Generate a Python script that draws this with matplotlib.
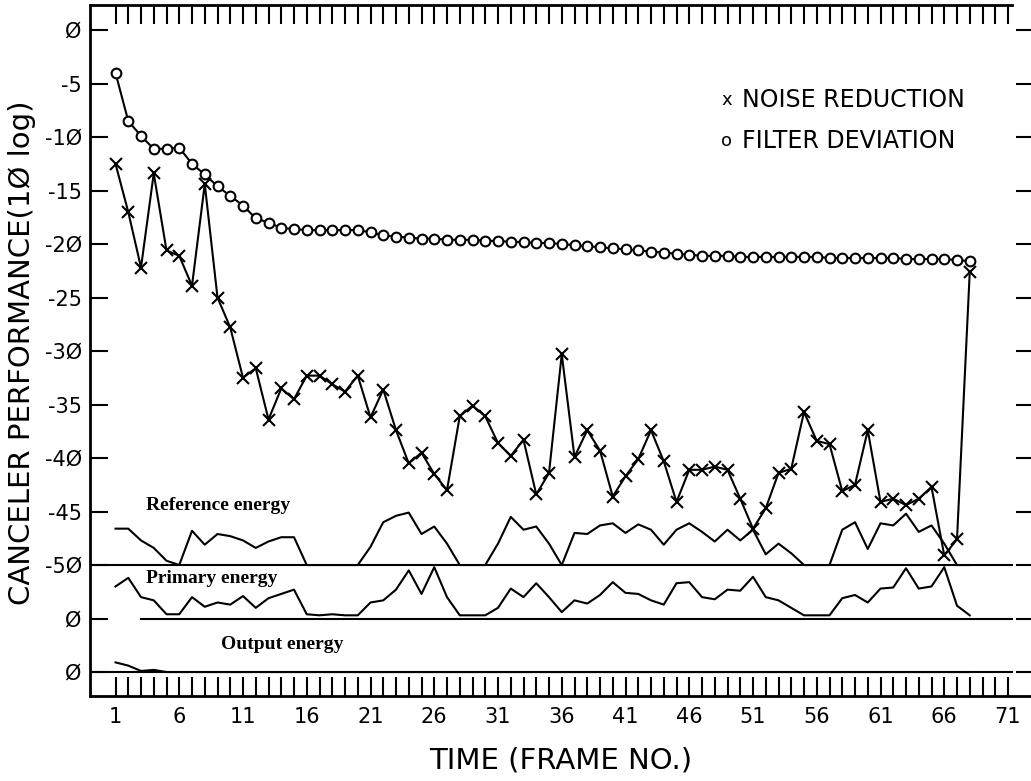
import numpy as np
import matplotlib
matplotlib.use("Agg")
import matplotlib.pyplot as plt

# frame numbers and canceler performance curves (dB)
frames = np.arange(1, 69)

noise_reduction = [
    -12.5, -17.0, -22.2, -13.4, -20.6, -21.1, -23.9, -14.4, -25.0, -27.8,
    -32.5, -31.6, -36.4, -33.5, -34.5, -32.3, -32.3, -33.1, -33.8, -32.3,
    -36.2, -33.6, -37.4, -40.5, -39.5, -41.5, -43.0, -36.1, -35.1, -36.1,
    -38.6, -39.8, -38.3, -43.4, -41.4, -30.3, -39.9, -37.4, -39.3, -43.6,
    -41.7, -40.1, -37.4, -40.3, -44.1, -41.1, -41.1, -40.8, -41.1, -43.8,
    -46.6, -44.7, -41.4, -41.0, -35.7, -38.4, -38.7, -43.1, -42.5, -37.4,
    -44.1, -43.8, -44.4, -43.8, -42.7, -49.1, -47.6, -22.6,
]

filter_deviation = [
    -4.0, -8.5, -9.9, -11.1, -11.1, -11.0, -12.5, -13.5, -14.6, -15.5,
    -16.4, -17.6, -18.0, -18.5, -18.6, -18.7, -18.7, -18.7, -18.7, -18.7,
    -18.9, -19.2, -19.3, -19.4, -19.5, -19.5, -19.6, -19.6, -19.6, -19.7,
    -19.7, -19.8, -19.8, -19.9, -19.9, -20.0, -20.1, -20.2, -20.3, -20.4,
    -20.5, -20.6, -20.7, -20.8, -20.9, -21.0, -21.1, -21.1, -21.1, -21.2,
    -21.2, -21.2, -21.2, -21.2, -21.2, -21.2, -21.3, -21.3, -21.3, -21.3,
    -21.3, -21.3, -21.4, -21.4, -21.4, -21.4, -21.5, -21.6,
]

# energy traces, each drawn on its own baseline
reference_energy = [
    -46.6, -46.6, -47.7, -48.4, -49.6, -50.0, -46.8, -48.1, -47.1, -47.3,
    -47.7, -48.4, -47.8, -47.4, -47.4, -50.0, -50.0, -50.0, -50.0, -50.0,
    -48.3, -46.0, -45.4, -45.1, -47.1, -46.4, -48.0, -50.0, -50.0, -50.0,
    -48.0, -45.5, -46.7, -46.4, -48.0, -50.0, -47.0, -47.1, -46.3, -46.1,
    -47.0, -46.2, -46.7, -48.1, -46.7, -46.1, -46.9, -47.8, -46.7, -47.7,
    -46.7, -49.0, -48.0, -48.9, -50.0, -50.0, -50.0, -46.7, -46.0, -48.5,
    -46.1, -46.3, -45.2, -46.9, -46.3, -48.0, -50.0, -50.0,
]

primary_energy = [
    -52.0, -51.2, -53.0, -53.3, -54.6, -54.6, -53.0, -53.9, -53.5, -53.7,
    -52.9, -54.0, -53.1, -52.7, -52.3, -54.6, -54.7, -54.6, -54.7, -54.7,
    -53.5, -53.3, -52.3, -50.5, -52.7, -50.2, -53.0, -54.7, -54.7, -54.7,
    -54.0, -52.2, -53.0, -51.7, -53.0, -54.4, -53.3, -53.6, -52.8, -51.6,
    -52.6, -52.7, -53.3, -53.7, -51.7, -51.6, -53.0, -53.2, -52.3, -52.4,
    -51.1, -53.0, -53.3, -54.0, -54.7, -54.7, -54.7, -53.1, -52.8, -53.5,
    -52.2, -52.1, -50.3, -52.2, -52.0, -50.2, -53.8, -54.7,
]

output_energy = [-59.1, -59.4, -59.9, -59.8] + [-60.0] * 64

baselines = [-50, -55, -60]
baseline_start = [-1, 3, -1]

ytick_vals = list(range(0, -65, -5))
ytick_text = ['Ø', '-5', '-1Ø', '-15', '-2Ø', '-25', '-3Ø', '-35', '-4Ø',
              '-45', '-5Ø', 'Ø', 'Ø']
xtick_vals = list(range(1, 72))

plt.rcParams['font.family'] = ['DejaVu Sans']

fig = plt.figure(figsize=(10.31, 7.81), dpi=100)
ax = fig.add_axes([90 / 1031, 85 / 781, 943.5 / 1031, 691 / 781])
ax.set_xlim(-1, 73)
ax.set_ylim(-62.24, 2.34)

lw = 1.5
for b, x0 in zip(baselines, baseline_start):
    ax.plot([x0, 71.3], [b, b], color='black', lw=lw)

ax.plot(frames, reference_energy, color='black', lw=lw)
ax.plot(frames, primary_energy, color='black', lw=lw)
ax.plot(frames, output_energy, color='black', lw=lw)

ax.plot(frames, noise_reduction, color='black', lw=lw, marker='x',
        markersize=8, markeredgewidth=1.5)
ax.plot(frames, filter_deviation, color='black', lw=lw, marker='o',
        markersize=7, markerfacecolor='white', markeredgewidth=1.5)

# legend as plain text, plotter style
ax.text(48.5, -6.5, 'x', fontsize=13, ha='left', va='center')
ax.text(50.1, -6.5, 'NOISE REDUCTION', fontsize=17, ha='left', va='center')
ax.text(48.5, -10.4, 'o', fontsize=13, ha='left', va='center')
ax.text(50.1, -10.4, 'FILTER DEVIATION', fontsize=17, ha='left', va='center')

serif = dict(family=['Liberation Serif', 'DejaVu Serif'], weight='bold',
             fontsize=14)
ax.text(3.4, -44.4, 'Reference energy', ha='left', va='center', **serif)
ax.text(3.4, -51.3, 'Primary energy', ha='left', va='center', **serif)
ax.text(9.3, -57.4, 'Output energy', ha='left', va='center', **serif)

# axes frame and ticks
for side in ['left', 'bottom', 'top']:
    ax.spines[side].set_linewidth(2)
ax.spines['right'].set_visible(False)
ax.spines['top'].set_bounds(-1, 71.3)

ax.set_yticks(ytick_vals)
ax.set_yticklabels(ytick_text)
ax.set_xticks(xtick_vals)
ax.set_xticklabels([str(v) if (v - 1) % 5 == 0 else '' for v in xtick_vals])
ax.tick_params(axis='y', direction='in', length=13, width=1.5,
               left=True, right=True, labelsize=15, pad=6)
ax.tick_params(axis='x', direction='in', length=14, width=1.5,
               top=True, bottom=True, labelsize=15, pad=8)

fig.text(22 / 1031, 1 - 353 / 781, 'CANCELER PERFORMANCE(1Ø log)',
         rotation=90, fontsize=21, ha='center', va='center')
fig.text(561 / 1031, 1 - 760 / 781, 'TIME (FRAME NO.)', fontsize=21,
         ha='center', va='center')

fig.savefig('out.png', dpi=100, facecolor='white')
